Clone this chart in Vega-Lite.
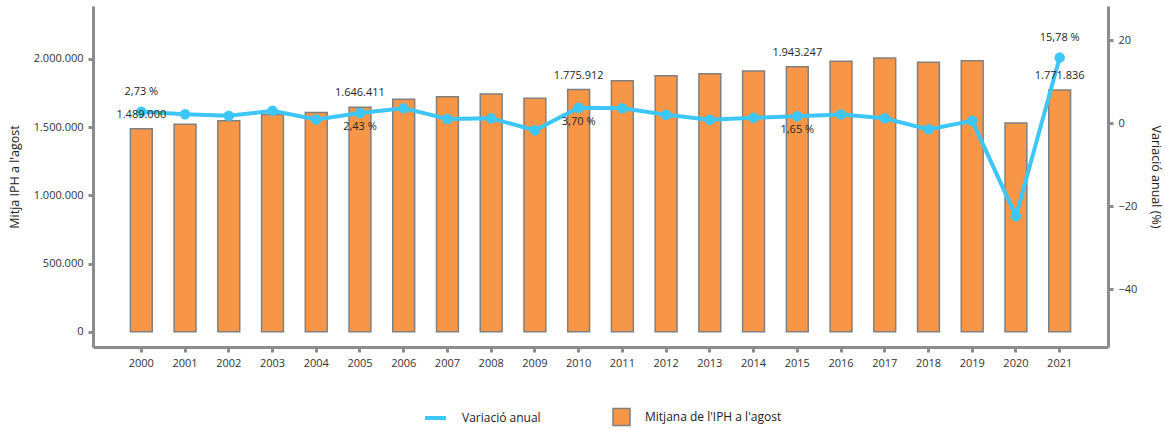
{
  "$schema": "https://vega.github.io/schema/vega-lite/v6.json",
  "width": 1015,
  "height": 341,
  "autosize": {"type": "none"},
  "padding": {"left": 93, "top": 6, "right": 57, "bottom": 81},
  "config": {
    "locale": {"number": {"decimal": ",", "thousands": ".", "grouping": [3], "currency": ["", " €"]}},
    "font": "Open Sans",
    "view": {"stroke": null},
    "axis": {
      "domainColor": "#8c8c8c", "domainWidth": 3, "tickColor": "#8c8c8c", "tickWidth": 3, "tickSize": 5,
      "labelFont": "Open Sans", "labelFontSize": 11, "labelColor": "#333333", "labelPadding": 5,
      "titleFont": "Open Sans", "titleFontSize": 12.5, "titleFontWeight": "normal", "titleColor": "#222222",
      "grid": false
    },
    "legend": {"labelFont": "Open Sans", "labelFontSize": 12, "labelColor": "#222222", "padding": 0}
  },
  "data": {
    "values": [
      {"year": "2000", "iph": 1489000, "var": 2.73, "varLabel": "2,73 %"},
      {"year": "2001", "iph": 1521000, "var": 2.15},
      {"year": "2002", "iph": 1547600, "var": 1.75},
      {"year": "2003", "iph": 1593400, "var": 2.96},
      {"year": "2004", "iph": 1607353, "var": 0.87},
      {"year": "2005", "iph": 1646411, "var": 2.43, "varLabel": "2,43 %"},
      {"year": "2006", "iph": 1705700, "var": 3.6},
      {"year": "2007", "iph": 1722700, "var": 1.0},
      {"year": "2008", "iph": 1742500, "var": 1.15},
      {"year": "2009", "iph": 1712548, "var": -1.72},
      {"year": "2010", "iph": 1775912, "var": 3.7, "varLabel": "3,70 %"},
      {"year": "2011", "iph": 1839800, "var": 3.6},
      {"year": "2012", "iph": 1876600, "var": 2.0},
      {"year": "2013", "iph": 1891600, "var": 0.8},
      {"year": "2014", "iph": 1911704, "var": 1.3},
      {"year": "2015", "iph": 1943247, "var": 1.65, "varLabel": "1,65 %"},
      {"year": "2016", "iph": 1984000, "var": 2.1},
      {"year": "2017", "iph": 2006800, "var": 1.15},
      {"year": "2018", "iph": 1976700, "var": -1.5},
      {"year": "2019", "iph": 1987600, "var": 0.55},
      {"year": "2020", "iph": 1530347, "var": -22.4},
      {"year": "2021", "iph": 1771836, "var": 15.78, "varLabel": "15,78 %"}
    ]
  },
  "encoding": {
    "x": {
      "field": "year", "type": "ordinal",
      "scale": {"paddingInner": 0.5, "paddingOuter": 0.855},
      "axis": {"title": null, "labelAngle": 0}
    }
  },
  "layer": [
    {
      "mark": {"type": "bar", "stroke": "#808080", "strokeWidth": 1.5},
      "encoding": {
        "y": {
          "field": "iph", "type": "quantitative",
          "scale": {"domain": [-112200, 2388700], "nice": false, "zero": false},
          "axis": {"title": "Mitja IPH a l'agost", "orient": "left", "values": [0, 500000, 1000000, 1500000, 2000000], "format": ",.0f", "titlePadding": 12}
        },
        "fill": {
          "datum": "Mitjana de l'IPH a l'agost",
          "scale": {"range": ["#F79646"]},
          "legend": {
            "title": null, "orient": "none", "legendX": 519, "legendY": 401.5, "direction": "horizontal",
            "symbolType": "square", "symbolSize": 289, "symbolStrokeColor": "#808080", "symbolStrokeWidth": 1.5,
            "symbolFillColor": "#F79646", "labelOffset": 14
          }
        }
      }
    },
    {
      "encoding": {
        "y": {
          "field": "var", "type": "quantitative",
          "scale": {"domain": [-53.9, 28.2], "nice": false, "zero": false},
          "axis": {"title": "Variació anual (%)", "values": [-40, -20, 0, 20], "orient": "right", "titlePadding": 12}
        }
      },
      "layer": [
        {
          "mark": {"type": "line", "strokeWidth": 4},
          "encoding": {
            "stroke": {
              "datum": "Variació anual",
              "scale": {"range": ["#3EC6F7"]},
              "legend": {
                "title": null, "orient": "none", "legendX": 330, "legendY": 399.5, "direction": "horizontal",
                "symbolType": "stroke", "symbolSize": 441, "symbolStrokeWidth": 4, "labelOffset": 14
              }
            }
          }
        },
        {
          "mark": {"type": "point", "filled": true, "size": 110, "color": "#3EC6F7", "opacity": 1}
        },
        {
          "transform": [{"filter": "datum.year == '2000' || datum.year == '2021'"}],
          "mark": {"type": "text", "dy": -20, "baseline": "middle", "fontSize": 11, "color": "#262626"},
          "encoding": {"text": {"field": "varLabel"}}
        },
        {
          "transform": [{"filter": "datum.year == '2005' || datum.year == '2010' || datum.year == '2015'"}],
          "mark": {"type": "text", "dy": 14, "baseline": "middle", "fontSize": 11, "color": "#262626"},
          "encoding": {"text": {"field": "varLabel"}}
        }
      ]
    },
    {
      "transform": [{"filter": "datum.year == '2000' || datum.year == '2005' || datum.year == '2010' || datum.year == '2015' || datum.year == '2021'"}],
      "mark": {"type": "text", "dy": -14, "baseline": "middle", "fontSize": 11, "color": "#262626"},
      "encoding": {
        "y": {
          "field": "iph", "type": "quantitative",
          "scale": {"domain": [-112200, 2388700], "nice": false, "zero": false},
          "axis": null
        },
        "text": {"field": "iph", "type": "quantitative", "format": ",.0f"}
      }
    }
  ],
  "resolve": {"scale": {"y": "independent"}}
}
